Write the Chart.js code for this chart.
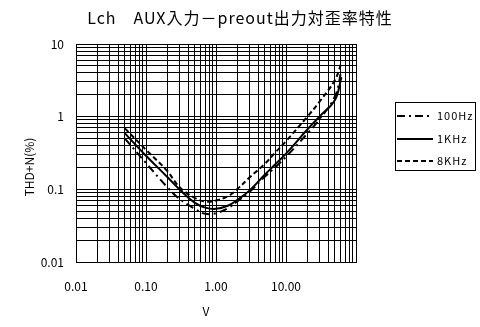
<!DOCTYPE html>
<html>
<head>
<meta charset="utf-8">
<script src="https://cdn.jsdelivr.net/npm/chart.js@4"></script>
<style>
html, body { margin: 0; padding: 0; background: #fff; }
#wrap { width: 480px; height: 327px; }
</style>
</head>
<body>
<div id="wrap"><canvas id="thdChart" width="480" height="327"></canvas></div>
<script>
const titleText = 'Lch\u3000AUX入力－preout出力対歪率特性';
const xTitle = 'V';
const yTitle = 'THD+N(%)';

// input level (V) and THD+N (%)
const voltages = [0.05, 0.1, 0.2, 0.3, 0.5, 0.7, 1, 1.5, 2, 3, 5, 7, 10, 20, 30, 50, 62];
const thd100Hz = [0.50, 0.23, 0.108, 0.074, 0.054, 0.046, 0.047, 0.0555, 0.068, 0.092, 0.15, 0.20, 0.28, 0.58, 0.92, 1.9, 4.4];
const thd1kHz = [0.59, 0.29, 0.149, 0.100, 0.065, 0.056, 0.054, 0.060, 0.071, 0.096, 0.16, 0.22, 0.31, 0.66, 1.0, 1.7, 3.5];
const thd8kHz = [0.69, 0.35, 0.18, 0.108, 0.076, 0.068, 0.070, 0.081, 0.100, 0.145, 0.225, 0.32, 0.46, 0.99, 1.6, 3.2, 5.5];
const seriesNames = ['100Hz', '1KHz', '8KHz'];

const xTickValues = [0.01, 0.1, 1, 10];
const xTickLabels = ['0.01', '0.10', '1.00', '10.00'];
const yTickValues = [0.01, 0.1, 1, 10];
const yTickLabels = ['0.01', '0.1', '1', '10'];

const FONT = '"Noto Sans CJK JP", "Liberation Sans", sans-serif';

// 1..9 x 10^n gridlines, like the spreadsheet log axis
const logGrid = (min, max) => {
    const out = [];
    for (let e = Math.floor(Math.log10(min)); e <= Math.ceil(Math.log10(max)); e++) {
        for (let k = 1; k < 10; k++) {
            const v = Number((k * Math.pow(10, e)).toPrecision(6));
            if (v >= min * 0.999 && v <= max * 1.001) out.push(v);
        }
    }
    return out;
};

const labelFor = (values, labels) => (val) => {
    const i = values.findIndex(t => Math.abs(t - val) / t < 1e-6);
    return i >= 0 ? labels[i] : '';
};

const pts = (ys) => voltages.map((v, i) => ({ x: v, y: ys[i] }));

const decorations = {
    id: 'decorations',
    afterDraw(chart) {
        const ctx = chart.ctx;
        const area = chart.chartArea;
        ctx.save();
        ctx.fillStyle = '#000';

        // title
        ctx.font = '16px ' + FONT;
        ctx.letterSpacing = '1px';
        ctx.textAlign = 'center';
        ctx.textBaseline = 'middle';
        ctx.fillText(titleText, 240, 18);

        // axis titles
        ctx.font = '12px ' + FONT;
        ctx.letterSpacing = '0px';
        ctx.fillText(xTitle, 206, 311);
        ctx.save();
        ctx.translate(29, 167);
        ctx.rotate(-Math.PI / 2);
        ctx.fillText(yTitle, 0, 0);
        ctx.restore();

        // legend box
        const lx = 395, ly = 102, lw = 80, lh = 68;
        ctx.strokeStyle = '#000';
        ctx.lineWidth = 1;
        ctx.strokeRect(lx + 0.5, ly + 0.5, lw, lh);
        const rows = [116, 139, 161];
        ctx.font = '11px ' + FONT;
        ctx.letterSpacing = '1px';
        ctx.textAlign = 'left';
        chart.data.datasets.forEach((ds, i) => {
            const y = rows[i];
            ctx.beginPath();
            ctx.setLineDash(ds.borderDash || []);
            ctx.lineWidth = ds.borderWidth;
            ctx.moveTo(397, y);
            ctx.lineTo(433, y);
            ctx.stroke();
            ctx.setLineDash([]);
            ctx.fillText(ds.label, 437, y);
        });
        ctx.restore();
    }
};

const ctx = document.getElementById('thdChart').getContext('2d');
let myChart = new Chart(ctx, {
    type: 'line',
    data: {
        datasets: [
            { label: seriesNames[0], data: pts(thd100Hz), borderColor: '#000', borderWidth: 2, borderDash: [8, 4, 2, 4] },
            { label: seriesNames[1], data: pts(thd1kHz), borderColor: '#000', borderWidth: 2 },
            { label: seriesNames[2], data: pts(thd8kHz), borderColor: '#000', borderWidth: 2, borderDash: [5, 3] }
        ]
    },
    options: {
        responsive: false,
        animation: false,
        devicePixelRatio: 1,
        layout: { padding: { left: 0, top: 44, right: 124, bottom: 0 } },
        elements: {
            point: { radius: 0 },
            line: { tension: 0.4, fill: false }
        },
        plugins: {
            legend: { display: false },
            tooltip: { enabled: false },
            title: { display: false }
        },
        scales: {
            x: {
                type: 'logarithmic',
                min: 0.01,
                max: 100,
                afterBuildTicks: s => { s.ticks = logGrid(s.min, s.max).map(v => ({ value: v })); },
                afterFit: s => { s.height = 65; },
                grid: { color: '#000', lineWidth: 1, drawTicks: false },
                border: { color: '#000', width: 1 },
                ticks: {
                    autoSkip: false,
                    maxRotation: 0,
                    padding: 17,
                    color: '#000',
                    font: { family: FONT, size: 12 },
                    callback: labelFor(xTickValues, xTickLabels)
                }
            },
            y: {
                type: 'logarithmic',
                min: 0.01,
                max: 10,
                afterBuildTicks: s => { s.ticks = logGrid(s.min, s.max).map(v => ({ value: v })); },
                afterFit: s => { s.width = 76; },
                grid: { color: '#000', lineWidth: 1, drawTicks: false },
                border: { color: '#000', width: 1 },
                ticks: {
                    autoSkip: false,
                    padding: 12,
                    color: '#000',
                    font: { family: FONT, size: 12 },
                    callback: labelFor(yTickValues, yTickLabels)
                }
            }
        }
    },
    plugins: [decorations]
});
</script>
</body>
</html>
